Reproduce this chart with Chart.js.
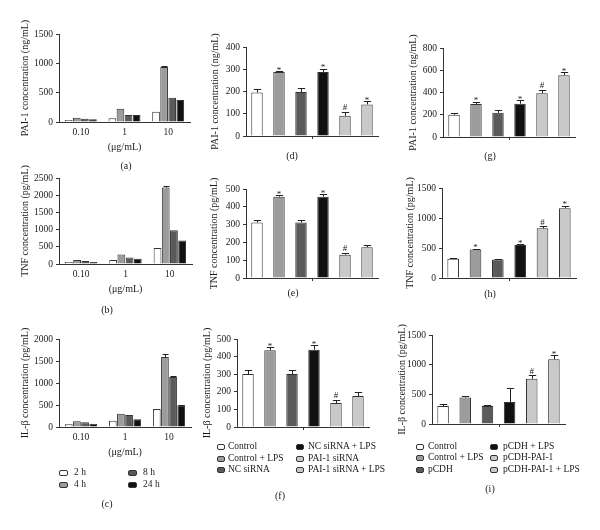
<!DOCTYPE html>
<html><head><meta charset="utf-8">
<script src="https://cdn.jsdelivr.net/npm/chart.js@4.4.1/dist/chart.umd.min.js"></script>
<style>
html,body{margin:0;padding:0;background:#fff;}
body{width:600px;height:530px;position:relative;overflow:hidden;font-family:"Liberation Serif","Times New Roman",serif;color:#1a1a1a;}
canvas{position:absolute;}
.cap{position:absolute;font-size:10px;transform:translate(-50%,-50%);white-space:nowrap;}
.leg{position:absolute;font-size:9.5px;white-space:nowrap;line-height:1;transform:translateY(-50%);}
.sw{position:absolute;box-sizing:border-box;height:6px;border:1px solid #333;border-radius:2px;transform:translateY(-50%);}
</style></head><body>
<script>
// ---------- data ----------
const doseLabels = ['0.10', '1', '10'];
const timeLabels = ['2 h', '4 h', '8 h', '24 h'];

// (a) PAI-1, time course
const a2h = [34, 62, 176], a4h = [74, 227, 937], a8h = [57, 119, 415], a24h = [45, 119, 375];
const a4hErr = [0, 0, 25];
// (b) TNF, time course
const b2h = [58, 115, 462], b4h = [115, 279, 2221], b8h = [87, 192, 981], b24h = [58, 154, 683];
const b4hErr = [0, 0, 60];
// (c) IL-beta, time course
const c2h = [61, 144, 409], c4h = [129, 303, 1591], c8h = [106, 273, 1136], c24h = [76, 174, 492];
const c4hErr = [0, 0, 60], c8hErr = [0, 0, 20], c24hErr = [0, 0, 15];

const siGroups = ['Control', 'Control + LPS', 'NC siRNA', 'NC siRNA + LPS', 'PAI-1 siRNA', 'PAI-1 siRNA + LPS'];
const ovGroups = ['Control', 'Control + LPS', 'pCDH', 'pCDH + LPS', 'pCDH-PAI-1', 'pCDH-PAI-1 + LPS'];

const dVals = [195, 288, 198, 288, 91, 142], dErr = [18, 4, 18, 15, 18, 15], dMarks = ['', '*', '', '*', '#', '*'];
const eVals = [312, 457, 312, 457, 131, 173], eErr = [14, 9, 14, 13, 11, 14], eMarks = ['', '*', '', '*', '#', ''];
const fVals = [301, 436, 301, 439, 136, 176], fErr = [21, 17, 25, 25, 19, 25], fMarks = ['', '*', '', '*', '#', ''];
const gVals = [200, 296, 217, 299, 393, 556], gErr = [20, 21, 24, 33, 30, 24], gMarks = ['', '*', '', '*', '#', '*'];
const hVals = [319, 476, 308, 548, 828, 1164], hErr = [15, 15, 15, 15, 38, 38], hMarks = ['', '*', '', '*', '#', '*'];
const iVals = [302, 448, 302, 369, 761, 1091], iErr = [34, 22, 17, 230, 62, 67], iMarks = ['', '', '', '', '#', '*'];

// ---------- style ----------
const SERIF = '"Liberation Serif","Times New Roman",serif';
const EDGE = '#333333';
const INK = '#1a1a1a';
const timeFills = ['#ffffff', '#9c9c9c', '#5a5a5a', '#111111'];
const groupFills = ['#ffffff', '#9c9c9c', '#5a5a5a', '#111111', '#c9c9c9', '#c9c9c9'];

const errPlugin = {
  id: 'errbars',
  afterDatasetsDraw(chart, args, opts) {
    const ctx = chart.ctx, y = chart.scales.y, x = chart.scales.x;
    ctx.save();
    ctx.strokeStyle = '#222';
    ctx.fillStyle = INK;
    ctx.lineWidth = 1;
    chart.data.datasets.forEach((ds, di) => {
      const meta = chart.getDatasetMeta(di);
      meta.data.forEach((bar, i) => {
        const e = ds.errs ? ds.errs[i] : 0;
        const top = y.getPixelForValue(ds.data[i] + (e || 0));
        if (e) {
          const cx = Math.round(bar.x) + 0.5;
          const cw = Math.max(3, bar.width * 0.32);
          ctx.beginPath();
          ctx.moveTo(cx, bar.y);
          ctx.lineTo(cx, Math.round(top) + 0.5);
          ctx.moveTo(cx - cw, Math.round(top) + 0.5);
          ctx.lineTo(cx + cw, Math.round(top) + 0.5);
          ctx.stroke();
        }
        const m = ds.marks ? ds.marks[i] : '';
        if (m) {
          ctx.font = '9px ' + SERIF;
          ctx.textAlign = 'center';
          ctx.textBaseline = 'alphabetic';
          ctx.fillText(m, bar.x, top + (m === '*' ? 1.5 : -1.5));
        }
      });
    });
    if (opts && opts.midTick) {
      const mx = Math.round((x.left + x.right) / 2) + 0.5;
      ctx.strokeStyle = EDGE;
      ctx.beginPath();
      ctx.moveTo(mx, x.top);
      ctx.lineTo(mx, x.top + 3);
      ctx.stroke();
    }
    ctx.restore();
  }
};

const panels = [
  {key: 'a', kind: 'group', labels: doseLabels, series: [a2h, a4h, a8h, a24h], errs: [null, a4hErr, null, null],
   max: 1500, step: 500, ytitle: 'PAI-1 concentration (ng/mL)', area: [59, 34, 190, 122], titleX: 25, cap: '(a)', capXY: [126, 165]},
  {key: 'b', kind: 'group', labels: doseLabels, series: [b2h, b4h, b8h, b24h], errs: [null, b4hErr, null, null],
   max: 2500, step: 500, ytitle: 'TNF concentration (pg/mL)', area: [59, 178, 192, 264], titleX: 25, cap: '(b)', capXY: [107, 309]},
  {key: 'c', kind: 'group', labels: doseLabels, series: [c2h, c4h, c8h, c24h], errs: [null, c4hErr, c8hErr, c24hErr],
   max: 2000, step: 500, ytitle: 'IL-β concentration (pg/mL)', area: [59, 339, 191, 427], titleX: 25, cap: '(c)', capXY: [107, 503]},
  {key: 'd', kind: 'single', labels: siGroups, vals: dVals, err: dErr, marks: dMarks,
   max: 400, step: 100, ytitle: 'PAI-1 concentration (ng/mL)', area: [246, 47, 378, 136], titleX: 215, cap: '(d)', capXY: [292, 155]},
  {key: 'e', kind: 'single', labels: siGroups, vals: eVals, err: eErr, marks: eMarks,
   max: 500, step: 100, ytitle: 'TNF concentration (pg/mL)', area: [246, 189, 378, 278], titleX: 214, cap: '(e)', capXY: [293, 292]},
  {key: 'f', kind: 'single', labels: siGroups, vals: fVals, err: fErr, marks: fMarks,
   max: 500, step: 100, ytitle: 'IL-β concentration (pg/mL)', area: [237, 339, 369, 427], titleX: 207, cap: '(f)', capXY: [280, 495]},
  {key: 'g', kind: 'single', labels: ovGroups, vals: gVals, err: gErr, marks: gMarks,
   max: 800, step: 200, ytitle: 'PAI-1 concentration (ng/mL)', area: [443, 48, 575, 137], titleX: 413, cap: '(g)', capXY: [490, 155]},
  {key: 'h', kind: 'single', labels: ovGroups, vals: hVals, err: hErr, marks: hMarks,
   max: 1500, step: 500, ytitle: 'TNF concentration (pg/mL)', area: [442, 188, 576, 278], titleX: 410, cap: '(h)', capXY: [490, 293]},
  {key: 'i', kind: 'single', labels: ovGroups, vals: iVals, err: iErr, marks: iMarks,
   max: 1500, step: 500, ytitle: 'IL-β concentration (pg/mL)', area: [432, 335, 565, 424], titleX: 402, cap: '(i)', capXY: [490, 488]}
];

const PAD_T = 25, PAD_R = 4, PAD_B = 20, TITLE_SIZE = 10, TITLE_LH = TITLE_SIZE * 1.2;

panels.forEach(p => {
  const [l, t, r, b] = p.area;
  const canvasLeft = Math.round(p.titleX - TITLE_LH / 2);
  const yW = l - canvasLeft;
  const xH = p.kind === 'group' ? 31 : 4;
  const W = yW + (r - l) + PAD_R;
  const H = PAD_T + (b - t) + xH + PAD_B;
  const cv = document.createElement('canvas');
  cv.width = W; cv.height = H;
  cv.style.left = canvasLeft + 'px';
  cv.style.top = (t - PAD_T) + 'px';
  cv.style.width = W + 'px'; cv.style.height = H + 'px';
  document.body.appendChild(cv);

  let datasets;
  if (p.kind === 'group') {
    datasets = p.series.map((s, k) => ({
      label: timeLabels[k], data: s, errs: p.errs[k],
      backgroundColor: timeFills[k], borderColor: EDGE, borderWidth: 1,
      categoryPercentage: 0.74, barPercentage: 0.95
    }));
  } else {
    datasets = [{
      label: p.ytitle, data: p.vals, errs: p.err, marks: p.marks,
      backgroundColor: groupFills, borderColor: EDGE, borderWidth: 1,
      categoryPercentage: 1, barPercentage: 0.52
    }];
  }

  new Chart(cv, {
    type: 'bar',
    data: {labels: p.labels, datasets},
    options: {
      responsive: false, animation: false, devicePixelRatio: 1,
      layout: {padding: {left: 0, top: PAD_T, right: PAD_R, bottom: PAD_B}},
      plugins: {legend: {display: false}, tooltip: {enabled: false}, errbars: {midTick: p.kind === 'single'}},
      scales: {
        x: {
          grid: {display: false, drawTicks: false},
          border: {display: true, color: EDGE, width: 1},
          ticks: {display: p.kind === 'group', color: INK, padding: 5, font: {family: SERIF, size: 9.5}, maxRotation: 0},
          title: {display: p.kind === 'group', text: '(μg/mL)', color: INK, padding: 0, font: {family: SERIF, size: 10}},
          afterFit: s => { s.height = xH; }
        },
        y: {
          min: 0, max: p.max,
          grid: {display: true, drawOnChartArea: false, drawTicks: true, tickLength: 3, color: EDGE},
          border: {display: true, color: EDGE, width: 1},
          ticks: {stepSize: p.step, color: INK, padding: 3, font: {family: SERIF, size: 9.5}, callback: v => String(v)},
          title: {display: true, text: p.ytitle, color: INK, padding: 0, font: {family: SERIF, size: TITLE_SIZE}},
          afterFit: s => { s.width = yW; }
        }
      }
    },
    plugins: [errPlugin]
  });

  const c = document.createElement('div');
  c.className = 'cap';
  c.textContent = p.cap;
  c.style.left = p.capXY[0] + 'px';
  c.style.top = p.capXY[1] + 'px';
  document.body.appendChild(c);
});

// ---------- legends ----------
function legendItem(text, fill, sx, sw, tx, y) {
  const s = document.createElement('div');
  s.className = 'sw';
  s.style.left = sx + 'px'; s.style.top = y + 'px'; s.style.width = sw + 'px';
  s.style.background = fill;
  document.body.appendChild(s);
  const t = document.createElement('div');
  t.className = 'leg';
  t.textContent = text;
  t.style.left = tx + 'px'; t.style.top = y + 'px';
  document.body.appendChild(t);
}
// (c) time legend: 2 columns x 2 rows
[[0, 59, 74, 473], [1, 59, 74, 484.5], [2, 128, 143, 473], [3, 128, 143, 484.5]].forEach(([k, sx, tx, y]) =>
  legendItem(timeLabels[k], timeFills[k], sx, 9, tx, y));
// (f) and (i) group legends: 2 columns x 3 rows
const rowsF = [447.3, 458.7, 470];
siGroups.forEach((g, k) => {
  const col = k < 3 ? 0 : 1, row = k % 3;
  legendItem(g, groupFills[k], col ? 296 : 217, 8, col ? 308 : 228, rowsF[row]);
});
const rowsI = [446.7, 458.3, 470];
ovGroups.forEach((g, k) => {
  const col = k < 3 ? 0 : 1, row = k % 3;
  legendItem(g, groupFills[k], col ? 490 : 416, 8, col ? 503 : 428, rowsI[row]);
});
</script>
</body></html>
